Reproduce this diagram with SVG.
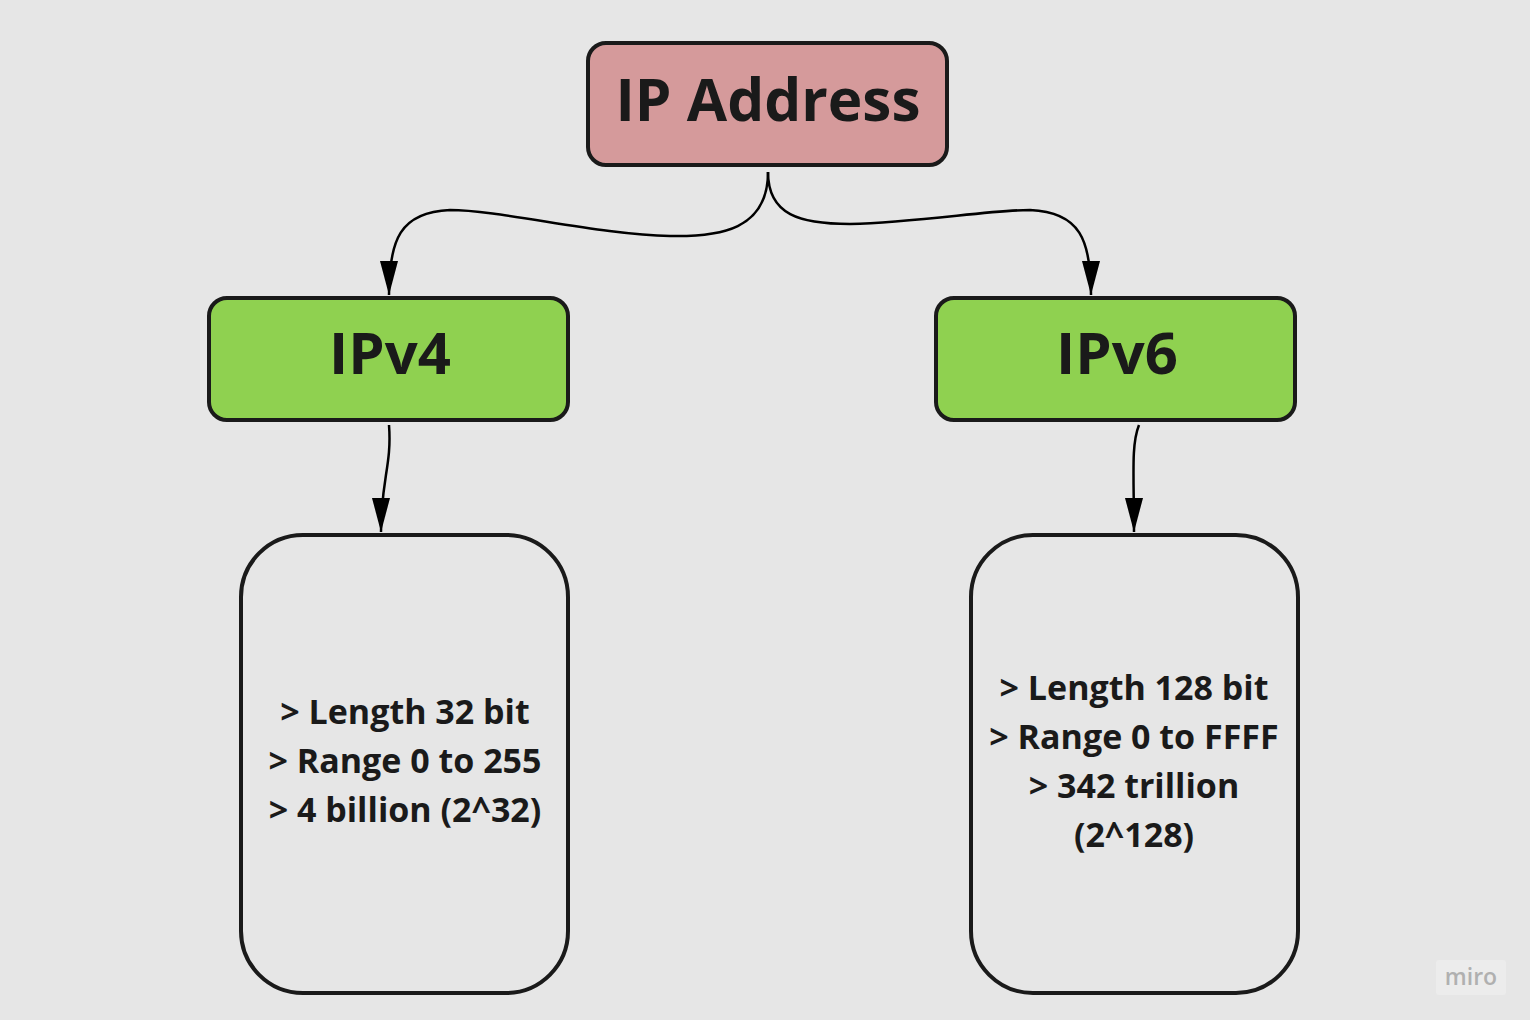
<svg xmlns="http://www.w3.org/2000/svg" width="1530" height="1020" viewBox="0 0 1530 1020">
<style>
.box{stroke:#1a1a1a;stroke-width:4}
.t{font-family:"Open Sans","Noto Sans",sans-serif;font-weight:bold;fill:#1a1a1a;text-anchor:middle}
.c{fill:none;stroke:#000;stroke-width:2.5}
</style>
<defs>
<marker id="ah" markerUnits="userSpaceOnUse" markerWidth="36" markerHeight="20" refX="34" refY="9" orient="auto">
<path d="M0,0 L34,9 L0,18 z" fill="#000"/>
</marker>
</defs>
<rect width="1530" height="1020" fill="#e6e6e6"/>
<g id="connectors">
<path class="c" marker-end="url(#ah)" d="M768,172 C768,230 720,237 670,236 C600,235 500,210 450,210 C400,212 389,240 389,295"/>
<path class="c" marker-end="url(#ah)" d="M768,172 C768,215 800,224 850,224 C920,222 990,210 1030,210 C1080,212 1091,240 1091,295"/>
<path class="c" marker-end="url(#ah)" d="M389,425 C392,465 381,480 381,532"/>
<path class="c" marker-end="url(#ah)" d="M1139,425 C1131,445 1134,475 1134,532"/>
</g>
<g id="ip-address">
<rect class="box" x="588" y="43" width="359" height="122" rx="18" fill="#d59a9b"/>
<text class="t" x="768" y="121" font-size="58.5">IP Address</text>
</g>
<g id="ipv4">
<rect class="box" x="209" y="298" width="359" height="122" rx="18" fill="#8fd150"/>
<text class="t" x="390" y="374" font-size="58">IPv4</text>
</g>
<g id="ipv6">
<rect class="box" x="936" y="298" width="359" height="122" rx="18" fill="#8fd150"/>
<text class="t" x="1117" y="374" font-size="58">IPv6</text>
</g>
<g id="ipv4-details">
<rect class="box" x="241" y="535" width="327" height="458" rx="62" fill="none"/>
<text class="t" font-size="34"><tspan x="405" y="724">&gt; Length 32 bit</tspan><tspan x="405" y="773">&gt; Range 0 to 255</tspan><tspan x="405" y="822">&gt; 4 billion (2^32)</tspan></text>
</g>
<g id="ipv6-details">
<rect class="box" x="971" y="535" width="327" height="458" rx="62" fill="none"/>
<text class="t" font-size="34"><tspan x="1134" y="700">&gt; Length 128 bit</tspan><tspan x="1134" y="749">&gt; Range 0 to FFFF</tspan><tspan x="1134" y="798">&gt; 342 trillion</tspan><tspan x="1134" y="847">(2^128)</tspan></text>
</g>
<g id="miro-logo">
<rect x="1436" y="960" width="70" height="35" rx="3" fill="#ececec"/>
<text x="1471" y="985" font-family="Open Sans,sans-serif" font-weight="600" font-size="23" fill="#b0b0b0" text-anchor="middle">miro</text>
</g>
</svg>
